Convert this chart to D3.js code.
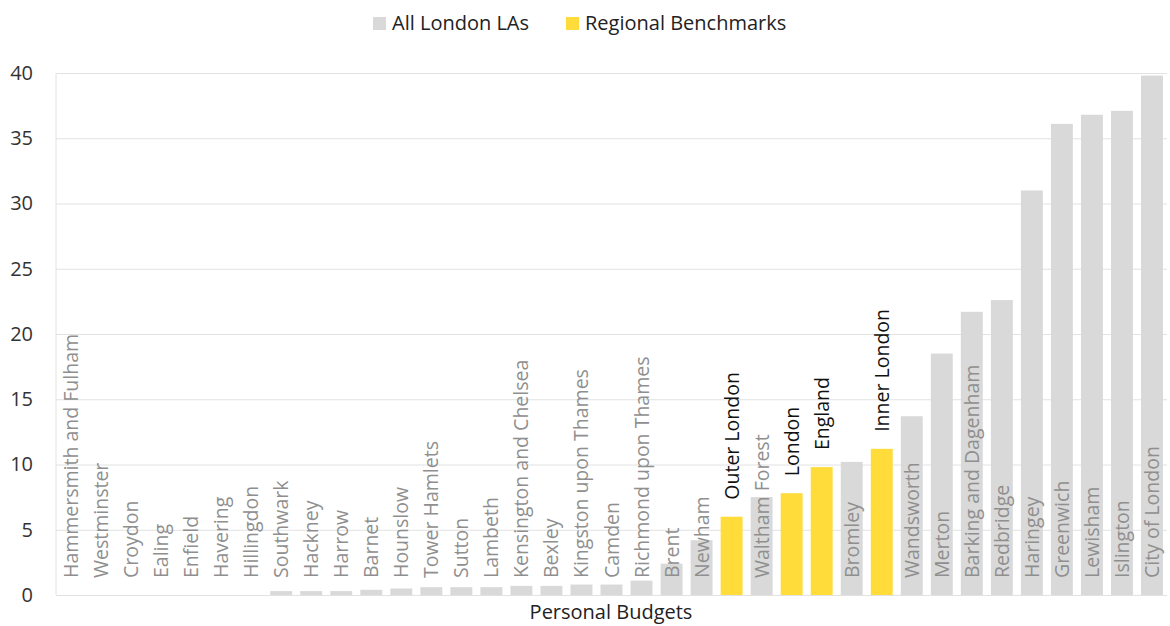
<!DOCTYPE html>
<html>
<head>
<meta charset="utf-8">
<script src="https://cdn.jsdelivr.net/npm/d3@7"></script>
<style>
  body { margin: 0; background: #fff; }
  svg text { font-family: "Open Sans", "Noto Sans", sans-serif; }
</style>
</head>
<body>
<div id="chart"></div>
<script>
  "use strict";

  var categories = [
    "Hammersmith and Fulham", "Westminster", "Croydon", "Ealing", "Enfield",
    "Havering", "Hillingdon", "Southwark", "Hackney", "Harrow", "Barnet",
    "Hounslow", "Tower Hamlets", "Sutton", "Lambeth", "Kensington and Chelsea",
    "Bexley", "Kingston upon Thames", "Camden", "Richmond upon Thames", "Brent",
    "Newham", "Outer London", "Waltham Forest", "London", "England", "Bromley",
    "Inner London", "Wandsworth", "Merton", "Barking and Dagenham", "Redbridge",
    "Haringey", "Greenwich", "Lewisham", "Islington", "City of London"
  ];

  var values = [
    0, 0, 0, 0, 0, 0, 0, 0.3, 0.3, 0.3, 0.4,
    0.5, 0.6, 0.6, 0.6, 0.7, 0.7, 0.8, 0.8, 1.1, 2.4,
    4.2, 6.0, 7.5, 7.8, 9.8, 10.2, 11.2, 13.7, 18.5, 21.7, 22.6,
    31.0, 36.1, 36.8, 37.1, 39.8
  ];

  var benchmarks = ["Outer London", "London", "England", "Inner London"];

  var yTicks = [0, 5, 10, 15, 20, 25, 30, 35, 40];

  var seriesNames = ["All London LAs", "Regional Benchmarks"];
  var seriesColors = ["#d9d9d9", "#ffdc3a"];

  var width = 1170, height = 626;
  var margin = {top: 73, right: 3, bottom: 31, left: 56};

  var svg = d3.select("#chart").append("svg")
    .attr("width", width)
    .attr("height", height);

  var x = d3.scaleBand()
    .domain(categories)
    .range([margin.left, width - margin.right])
    .paddingInner(0.27)
    .paddingOuter(0.135);

  var y = d3.scaleLinear()
    .domain([0, 40])
    .range([height - margin.bottom, margin.top]);

  // gridlines
  svg.append("g")
    .attr("transform", `translate(${margin.left},0)`)
    .call(d3.axisLeft(y).tickValues(yTicks).tickSize(-(width - margin.left - margin.right)).tickFormat(""))
    .call(g => g.select(".domain").remove())
    .call(g => g.selectAll("line").attr("stroke", "#e2e2e2").attr("stroke-width", 1));

  // left axis line
  svg.append("line")
    .attr("x1", margin.left).attr("x2", margin.left)
    .attr("y1", y(40)).attr("y2", y(0))
    .attr("stroke", "#e2e2e2");

  // y labels
  svg.append("g")
    .attr("transform", `translate(${margin.left},0)`)
    .call(d3.axisLeft(y).tickValues(yTicks).tickSize(0).tickPadding(23))
    .call(g => g.select(".domain").remove())
    .call(g => g.selectAll("text")
      .attr("font-size", 20)
      .attr("fill", "#333")
      .style("font-family", "'Open Sans', sans-serif"));

  var isBench = d => benchmarks.indexOf(d) >= 0;

  svg.append("g").selectAll("rect")
    .data(categories)
    .join("rect")
    .attr("x", d => x(d))
    .attr("width", x.bandwidth())
    .attr("y", (d, i) => y(values[i]))
    .attr("height", (d, i) => y(0) - y(values[i]))
    .attr("fill", d => isBench(d) ? seriesColors[1] : seriesColors[0]);

  // category labels, rotated inside the plot; benchmarks sit above their bar
  svg.append("g").selectAll("text")
    .data(categories)
    .join("text")
    .attr("transform", (d, i) => {
      var base = isBench(d) ? y(values[i]) : y(0);
      return `translate(${x(d) + x.bandwidth() / 2 + 7},${base - 17}) rotate(-90)`;
    })
    .attr("font-size", 19.5)
    .attr("fill", d => isBench(d) ? "#111" : "#8f8f8f")
    .text(d => d);

  // axis title
  svg.append("text")
    .attr("x", 611)
    .attr("y", 619)
    .attr("text-anchor", "middle")
    .attr("font-size", 20)
    .attr("fill", "#222")
    .text("Personal Budgets");

  // legend
  var legend = svg.append("g");
  var legendX = [373, 566];
  seriesNames.forEach(function(name, i) {
    legend.append("rect")
      .attr("x", legendX[i]).attr("y", 17)
      .attr("width", 13).attr("height", 13)
      .attr("fill", seriesColors[i]);
    legend.append("text")
      .attr("x", legendX[i] + 19).attr("y", 30)
      .attr("font-size", 20)
      .attr("fill", "#222")
      .text(name);
  });
</script>
</body>
</html>
